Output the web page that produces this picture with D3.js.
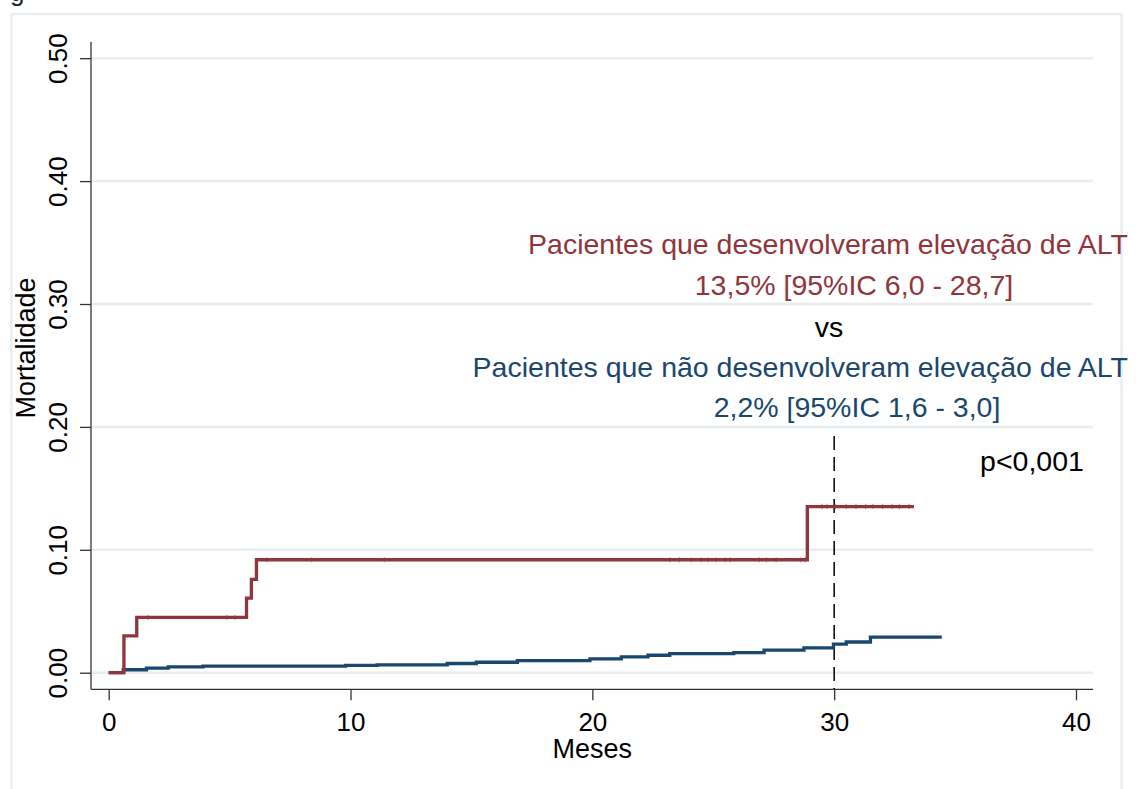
<!DOCTYPE html>
<html>
<head>
<meta charset="utf-8">
<script src="https://cdn.jsdelivr.net/npm/d3@7"></script>
<style>
	body { margin: 0; background: #fff; }
	svg { display: block; font-family: 'Liberation Sans', Arial, sans-serif; }
</style>
</head>
<body>
<div id="chart"></div>
<script>
// KM failure estimates (months, cumulative mortality)
const altTimes = [0, 0.63, 1.16, 5.7, 5.9, 6.11, 28.89]
const altValues = [0, 0.030, 0.045, 0.0607, 0.076, 0.0919, 0.1352]
const altEnd = 33.3
const altCensored = [1.63, 4.88, 5.22, 6.53, 8.39, 11.4, 23.2, 23.6, 24.1, 24.5, 24.8, 25.1, 25.5, 25.7,
	26.9, 27.2, 27.6, 28.6, 28.8, 29.5, 29.7, 30.05, 30.5, 30.9, 31.3, 31.6, 32, 32.4, 32.7, 33.1]

const noAltTimes = [0, 0.6, 1.56, 2.46, 3.9, 9.8, 11.1, 14.0, 15.2, 16.9, 19.9, 21.2, 22.3, 23.2,
	25.85, 27.1, 28.75, 29.97, 30.5, 31.5]
const noAltValues = [0, 0.0024, 0.0038, 0.0048, 0.0054, 0.006, 0.0064, 0.0075, 0.0085, 0.0099,
	0.0112, 0.0129, 0.0142, 0.0156, 0.0164, 0.0183, 0.0202, 0.0232, 0.025, 0.029]
const noAltEnd = 34.45

const xTicks = [0, 10, 20, 30, 40]
const yTicks = [0, 0.1, 0.2, 0.3, 0.4, 0.5]
const refMonth = 30

const annotations = [
	{ text: 'Pacientes que desenvolveram elevação de ALT', color: '#90353b', anchor: 'end' },
	{ text: '13,5% [95%IC 6,0 - 28,7]', color: '#90353b', anchor: 'middle' },
	{ text: 'vs', color: '#000', anchor: 'middle' },
	{ text: 'Pacientes que não desenvolveram elevação de ALT', color: '#1a476f', anchor: 'end' },
	{ text: '2,2% [95%IC 1,6 - 3,0]', color: '#1a476f', anchor: 'middle' },
	{ text: 'p<0,001', color: '#000', anchor: 'middle' }
]

const width = 1136
const height = 789
const red = '#90353b'
const blue = '#1a476f'
const grid = '#e6eef0'

const svg = d3
	.select('#chart')
	.append('svg')
	.attr('width', width)
	.attr('height', height)

// scales (Stata plot region)
const x = d3.scaleLinear().domain([0, 40]).range([108.7, 1076])
const y = d3.scaleLinear().domain([0, 0.5]).range([672.7, 58.2])

// cut-off title fragment and outer frame
svg.append('text').attr('x', 10).attr('y', 1).attr('font-size', 26).attr('fill', '#222').text('g')

svg.append('rect')
	.attr('x', 11.5).attr('y', 14)
	.attr('width', 1110).attr('height', 800)
	.attr('fill', 'none')
	.attr('stroke', '#e8eff2')
	.attr('stroke-width', 2.5)

// gridlines
svg.append('g')
	.selectAll('line')
	.data(yTicks)
	.enter()
	.append('line')
	.attr('x1', 92).attr('x2', 1093)
	.attr('y1', d => y(d)).attr('y2', d => y(d))
	.attr('stroke', grid)
	.attr('stroke-width', 2.5)

// y axis
const yAxis = svg.append('g')
	.attr('transform', 'translate(91,0)')
	.call(d3.axisLeft(y).tickValues(yTicks).tickSize(11).tickFormat(d3.format('.2f')))
yAxis.select('.domain').attr('d', `M0,42V${689.3}`).attr('stroke', '#333').attr('stroke-width', 1.3)
yAxis.selectAll('.tick line').attr('stroke', '#333').attr('stroke-width', 1.3)
yAxis.selectAll('.tick text')
	.attr('font-size', 26)
	.attr('fill', '#000')
	.attr('font-family', "'Liberation Sans', Arial, sans-serif")
	.attr('text-anchor', 'middle')
	.attr('transform', 'rotate(-90)')
	.attr('x', 0)
	.attr('y', -24)
	.attr('dy', 0)

// x axis
const xAxis = svg.append('g')
	.attr('transform', 'translate(0,689.3)')
	.call(d3.axisBottom(x).tickValues(xTicks).tickSize(11).tickFormat(d3.format('d')))
xAxis.select('.domain').attr('d', 'M91,0H1093').attr('stroke', '#333').attr('stroke-width', 1.3)
xAxis.selectAll('.tick line').attr('stroke', '#333').attr('stroke-width', 1.3)
xAxis.selectAll('.tick text')
	.attr('font-size', 26)
	.attr('fill', '#000')
	.attr('font-family', "'Liberation Sans', Arial, sans-serif")
	.attr('y', 41.5)
	.attr('dy', 0)

// axis titles
svg.append('text')
	.attr('x', x(20)).attr('y', 758)
	.attr('text-anchor', 'middle')
	.attr('font-size', 27)
	.text('Meses')

svg.append('text')
	.attr('transform', 'translate(35,348) rotate(-90)')
	.attr('text-anchor', 'middle')
	.attr('font-size', 27)
	.text('Mortalidade')

// reference line at 30 months
svg.append('line')
	.attr('x1', x(refMonth)).attr('x2', x(refMonth))
	.attr('y1', 436).attr('y2', 689)
	.attr('stroke', '#000')
	.attr('stroke-width', 1.5)
	.attr('stroke-dasharray', '14,7')

// step curves
const stepLine = d3.line()
	.x(d => x(d[0]))
	.y(d => y(d[1]))
	.curve(d3.curveStepAfter)

function drawCurve(times, values, end, color, censored) {
	const pts = times.map((t, i) => [t, values[i]])
	pts.push([end, values[values.length - 1]])
	svg.append('path')
		.datum(pts)
		.attr('d', stepLine)
		.attr('fill', 'none')
		.attr('stroke', color)
		.attr('stroke-width', 3.3)

	// censoring ticks
	const valueAt = t => values[d3.bisectRight(times, t) - 1]
	svg.append('g')
		.selectAll('line')
		.data(censored)
		.enter()
		.append('line')
		.attr('x1', d => x(d)).attr('x2', d => x(d))
		.attr('y1', d => y(valueAt(d)) - 2.5)
		.attr('y2', d => y(valueAt(d)) + 2.5)
		.attr('stroke', color)
		.attr('stroke-opacity', 0.55)
		.attr('stroke-width', 1.2)
}

drawCurve(noAltTimes, noAltValues, noAltEnd, blue, [])
drawCurve(altTimes, altValues, altEnd, red, altCensored)

// annotation block
const annX = { end: 1128, middle: [null, 854, 829, null, 857, 1032] }
const annY = [254, 295, 337, 377, 417, 471]

svg.append('g')
	.selectAll('text')
	.data(annotations)
	.enter()
	.append('text')
	.attr('x', (d, i) => (d.anchor === 'end' ? annX.end : annX.middle[i]))
	.attr('y', (d, i) => annY[i])
	.attr('text-anchor', d => d.anchor)
	.attr('font-size', 28.5)
	.attr('fill', d => d.color)
	.text(d => d.text)
</script>
</body>
</html>
